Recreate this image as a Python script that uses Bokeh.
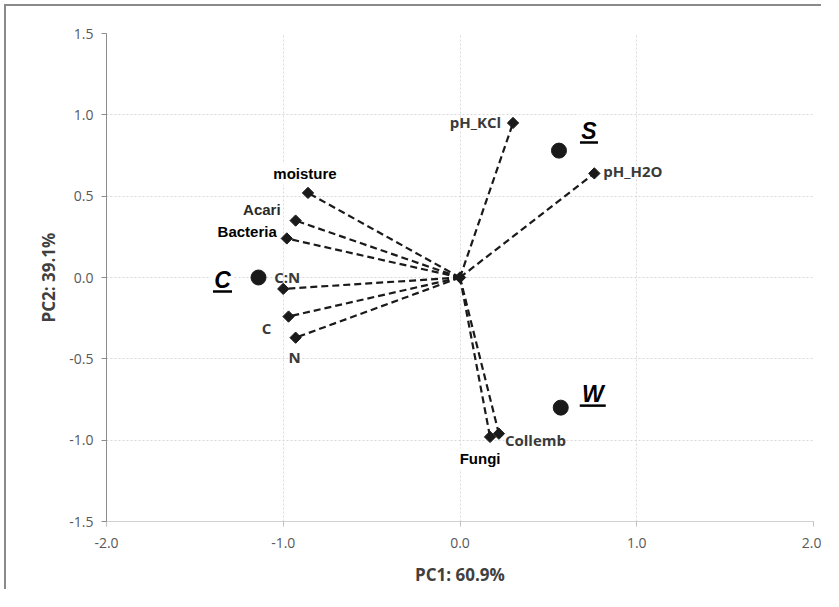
import numpy as np
from bokeh.plotting import figure
from bokeh.layouts import column
from bokeh.models import ColumnDataSource, Range1d, FixedTicker
from bokeh.core.properties import value
from bokeh.embed import file_html
from bokeh.resources import INLINE

# ---------------- data ----------------
var_names = ["pH_KCl", "pH_H2O", "moisture", "Acari", "Bacteria", "C:N", "C", "N", "Fungi", "Collemb"]
var_x = [0.30, 0.76, -0.86, -0.93, -0.98, -1.00, -0.97, -0.93, 0.17, 0.22]
var_y = [0.95, 0.64, 0.52, 0.35, 0.24, -0.07, -0.24, -0.37, -0.98, -0.96]

group_names = ["C", "S", "W"]
group_x = [-1.14, 0.56, 0.57]
group_y = [0.00, 0.78, -0.80]

x_ticks = [-2.0, -1.0, 0.0, 1.0, 2.0]
y_ticks = [-1.5, -1.0, -0.5, 0.0, 0.5, 1.0, 1.5]
x_label = "PC1: 60.9%"
y_label = "PC2: 39.1%"

# ---------------- styling ----------------
X0, X1 = -2.0, 2.0
Y0, Y1 = -1.5, 1.5
FW, FH = 707, 488
W, H = 817, 585
ML, MT = 100, 27
MR = W - ML - FW
MB = H - MT - FH

SIGN = 1  # screen-down offsets -> bokeh text y_offset

# per-label pixel offsets (dx right, dy down), anchor, font kind
var_dx = [-12, 9, -3, -13, -8, -9, -22, -1, -10, 6]
var_dy = [-1, -2, -19, -11, -7, -12, 11, 19, 22, 6]
var_anchor = ["center_right", "center_left", "center", "center_right", "center_right",
              "center_left", "center", "center", "center", "center_left"]
var_kind = ["seg", "seg", "arial", "arial", "arial", "seg", "seg", "seg", "arial", "seg"]
var_color = ["#3a3a3a", "#3a3a3a", "#000000", "#2a2a2a", "#000000",
             "#3a3a3a", "#3a3a3a", "#3a3a3a", "#000000", "#3a3a3a"]

grp_dx = [-36, 30, 32]
grp_dy = [2, -20, -14]
grp_w = [19, 18, 26]

p = figure(width=W, height=H, output_backend="svg", toolbar_location=None,
           x_range=Range1d(X0, X1), y_range=Range1d(Y0, Y1),
           min_border_left=ML, min_border_right=MR, min_border_top=MT, min_border_bottom=MB,
           background_fill_color="white", border_fill_color="white")
p.outline_line_color = None
p.styles = {"border-top": "2px solid #8a8a8a", "border-left": "2px solid #8a8a8a"}

# grids
p.xgrid.ticker = FixedTicker(ticks=x_ticks)
p.ygrid.ticker = FixedTicker(ticks=y_ticks)
for g in (p.xgrid, p.ygrid):
    g.grid_line_color = "#d9d9d9"
    g.grid_line_dash = "2 2"
    g.grid_line_width = 1

# axes
p.xaxis.ticker = FixedTicker(ticks=x_ticks)
p.yaxis.ticker = FixedTicker(ticks=y_ticks)
p.xaxis.major_label_overrides = {t: f"{t:.1f}" for t in x_ticks}
p.yaxis.major_label_overrides = {t: f"{t:.1f}" for t in y_ticks}
for ax in (p.xaxis, p.yaxis):
    ax.minor_tick_line_color = None
    ax.major_tick_in = 0
    ax.major_tick_out = 5
    ax.major_label_text_font = "Open Sans"
    ax.major_label_text_font_size = "14px"
    ax.major_label_text_color = "#595959"
    ax.axis_label_text_font = "Open Sans"
    ax.axis_label_text_font_style = "bold"
    ax.axis_label_text_font_size = "17px"
    ax.axis_label_text_color = "#404040"
p.xaxis.major_label_standoff = 11
p.xaxis.axis_label_standoff = 12
p.yaxis.major_label_standoff = 8
p.yaxis.axis_label_standoff = 6
p.xaxis.axis_label = x_label
p.yaxis.axis_label = y_label
p.xaxis.axis_line_color = "#d0d0d0"
p.xaxis.major_tick_line_color = "#c0c0c0"
p.yaxis.axis_line_color = "#8c8c8c"
p.yaxis.major_tick_line_color = "#8c8c8c"

# loading vectors
src = ColumnDataSource(dict(x0=[0.0] * len(var_x), y0=[0.0] * len(var_y), x1=var_x, y1=var_y))
p.segment(x0="x0", y0="y0", x1="x1", y1="y1", source=src,
          line_color="#1a1a1a", line_width=2.2, line_dash="7 4")
p.scatter(x=var_x, y=var_y, marker="square", angle=np.pi / 4, size=8,
          fill_color="#1a1a1a", line_color="#1a1a1a")
p.scatter(x=[0.0], y=[0.0], marker="square", angle=np.pi / 4, size=8,
          fill_color="#1a1a1a", line_color="#1a1a1a")

# variable labels
for kind, font in (("seg", "Open Sans"), ("arial", "Liberation Sans")):
    idx = [i for i, k in enumerate(var_kind) if k == kind]
    ls = ColumnDataSource(dict(
        x=[var_x[i] for i in idx], y=[var_y[i] for i in idx],
        t=[var_names[i] for i in idx],
        dx=[var_dx[i] for i in idx], dy=[SIGN * var_dy[i] for i in idx],
        a=[var_anchor[i] for i in idx], c=[var_color[i] for i in idx]))
    kw = {}
    if kind == "arial":
        kw = dict(background_fill_color="white", padding=2)
    p.text(x="x", y="y", text="t", x_offset="dx", y_offset="dy", anchor="a",
           text_color="c", text_font=value(font), text_font_style="bold",
           text_font_size="15px", source=ls, **kw)

# group centroids
p.scatter(x=group_x, y=group_y, marker="circle", size=15,
          fill_color="#1a1a1a", line_color="#1a1a1a")
gs = ColumnDataSource(dict(x=group_x, y=group_y, t=group_names,
                           dx=grp_dx, dy=[SIGN * d for d in grp_dy]))
p.text(x="x", y="y", text="t", x_offset="dx", y_offset="dy", anchor="center",
       text_color="#000000", text_font=value("Liberation Sans"),
       text_font_style="bold italic", text_font_size="23px", source=gs,
       background_fill_color="white", padding=3)

# underlines of group labels
sx = FW / (X1 - X0)
sy = FH / (Y1 - Y0)
ux0 = [gx + (dx - w / 2) / sx for gx, dx, w in zip(group_x, grp_dx, grp_w)]
ux1 = [gx + (dx + w / 2) / sx for gx, dx, w in zip(group_x, grp_dx, grp_w)]
uy = [gy - (dy + 12) / sy for gy, dy in zip(group_y, grp_dy)]
p.segment(x0=ux0, y0=uy, x1=ux1, y1=uy, line_color="#000000", line_width=2.5)

root = column(p, styles={"padding-left": "4px", "padding-top": "4px"})
open("out.html", "w").write(file_html(root, INLINE))
